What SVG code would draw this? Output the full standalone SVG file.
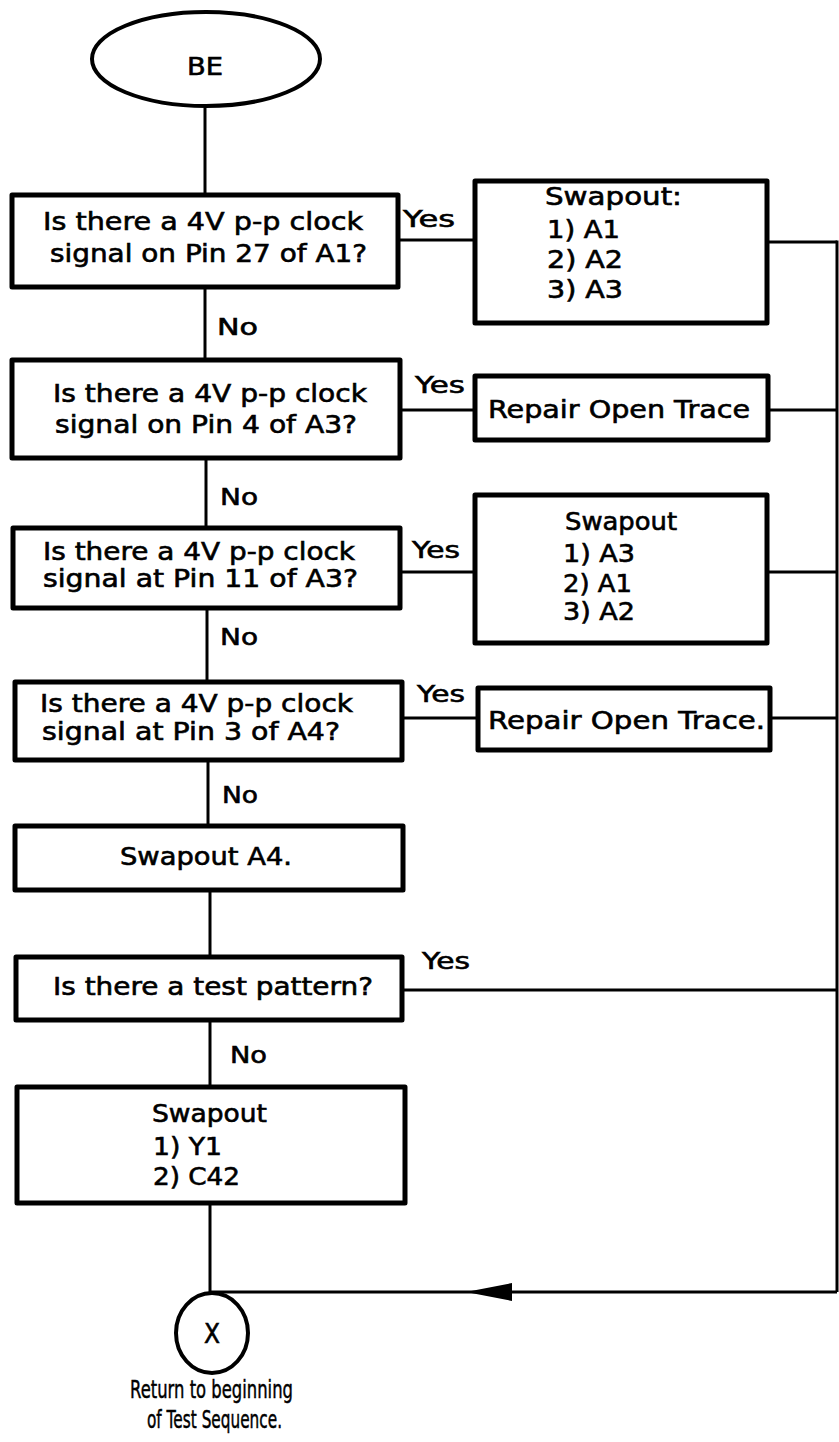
<svg xmlns="http://www.w3.org/2000/svg" width="839" height="1442" viewBox="0 0 839 1442">
<style>
.box{fill:#fff;stroke:#000;stroke-width:5;stroke-linejoin:round}
.term{fill:#fff;stroke:#000;stroke-width:4}
.ln{fill:none;stroke:#000;stroke-width:3}
text{font-family:"DejaVu Sans","Liberation Sans",sans-serif;font-size:24px;fill:#000;stroke:#000;stroke-width:0.6}
.lbl{font-size:23px}
.note{font-size:25px;stroke-width:0.5}
</style>
<defs>
<marker id="ah" viewBox="0 0 46 18" refX="0" refY="9" markerWidth="46" markerHeight="18" markerUnits="userSpaceOnUse" orient="auto">
<path d="M46,9 L0,0 L0,18 Z" fill="#000"/>
</marker>
</defs>
<g id="connectors">
<line class="ln" x1="205" y1="108" x2="205" y2="195"/>
<line class="ln" x1="205" y1="287" x2="205" y2="360"/>
<line class="ln" x1="206" y1="458" x2="206" y2="528"/>
<line class="ln" x1="207" y1="608" x2="207" y2="682"/>
<line class="ln" x1="208" y1="760" x2="208" y2="826"/>
<line class="ln" x1="210" y1="890" x2="210" y2="957"/>
<line class="ln" x1="210" y1="1020" x2="210" y2="1087"/>
<line class="ln" x1="210" y1="1203" x2="210" y2="1294"/>
<line class="ln" x1="398" y1="240" x2="475" y2="240"/>
<line class="ln" x1="400" y1="410" x2="475" y2="410"/>
<line class="ln" x1="400" y1="572" x2="475" y2="572"/>
<line class="ln" x1="402" y1="718" x2="478" y2="718"/>
<line class="ln" x1="767" y1="242" x2="837" y2="242"/>
<line class="ln" x1="768" y1="410" x2="837" y2="410"/>
<line class="ln" x1="767" y1="572" x2="837" y2="572"/>
<line class="ln" x1="770" y1="718" x2="837" y2="718"/>
<line class="ln" x1="402" y1="990" x2="837" y2="990"/>
<line class="ln" x1="837" y1="240.5" x2="837" y2="1292"/>
<line class="ln" x1="837" y1="1292" x2="512" y2="1292"/>
<line class="ln" x1="512" y1="1292" x2="210" y2="1292" marker-start="url(#ah)"/>
<text class="lbl" x="403" y="227" textLength="52" lengthAdjust="spacingAndGlyphs">Yes</text>
<text class="lbl" x="217" y="335" textLength="41" lengthAdjust="spacingAndGlyphs">No</text>
<text class="lbl" x="415" y="393" textLength="50" lengthAdjust="spacingAndGlyphs">Yes</text>
<text class="lbl" x="220" y="505" textLength="38" lengthAdjust="spacingAndGlyphs">No</text>
<text class="lbl" x="412" y="558" textLength="48" lengthAdjust="spacingAndGlyphs">Yes</text>
<text class="lbl" x="220" y="645" textLength="38" lengthAdjust="spacingAndGlyphs">No</text>
<text class="lbl" x="417" y="702" textLength="48" lengthAdjust="spacingAndGlyphs">Yes</text>
<text class="lbl" x="222" y="803" textLength="36" lengthAdjust="spacingAndGlyphs">No</text>
<text class="lbl" x="422" y="969" textLength="48" lengthAdjust="spacingAndGlyphs">Yes</text>
<text class="lbl" x="230" y="1063" textLength="37" lengthAdjust="spacingAndGlyphs">No</text>
</g>
<g id="start">
<ellipse class="term" cx="206" cy="59" rx="114" ry="47"/>
<text x="187" y="75" textLength="36" lengthAdjust="spacingAndGlyphs">BE</text>
</g>
<g id="q1">
<rect class="box" x="12" y="195" width="386" height="92"/>
<text x="43" y="230" textLength="320" lengthAdjust="spacingAndGlyphs">Is there a 4V p-p clock</text>
<text x="50" y="262" textLength="317" lengthAdjust="spacingAndGlyphs">signal on Pin 27 of A1?</text>
</g>
<g id="swap1">
<rect class="box" x="475" y="181" width="292" height="142"/>
<text x="545" y="205" textLength="137" lengthAdjust="spacingAndGlyphs">Swapout:</text>
<text x="547" y="238" textLength="73" lengthAdjust="spacingAndGlyphs">1) A1</text>
<text x="547" y="268" textLength="76" lengthAdjust="spacingAndGlyphs">2) A2</text>
<text x="547" y="298" textLength="76" lengthAdjust="spacingAndGlyphs">3) A3</text>
</g>
<g id="q2">
<rect class="box" x="12" y="360" width="388" height="98"/>
<text x="53" y="402" textLength="314" lengthAdjust="spacingAndGlyphs">Is there a 4V p-p clock</text>
<text x="55" y="433" textLength="302" lengthAdjust="spacingAndGlyphs">signal on Pin 4 of A3?</text>
</g>
<g id="repair1">
<rect class="box" x="475" y="376" width="293" height="64"/>
<text x="488" y="418" textLength="262" lengthAdjust="spacingAndGlyphs">Repair Open Trace</text>
</g>
<g id="q3">
<rect class="box" x="13" y="528" width="387" height="80"/>
<text x="43" y="560" textLength="312" lengthAdjust="spacingAndGlyphs">Is there a 4V p-p clock</text>
<text x="43" y="587" textLength="315" lengthAdjust="spacingAndGlyphs">signal at Pin 11 of A3?</text>
</g>
<g id="swap2">
<rect class="box" x="475" y="495" width="292" height="148"/>
<text x="565" y="530" textLength="112" lengthAdjust="spacingAndGlyphs">Swapout</text>
<text x="563" y="562" textLength="72" lengthAdjust="spacingAndGlyphs">1) A3</text>
<text x="563" y="592" textLength="69" lengthAdjust="spacingAndGlyphs">2) A1</text>
<text x="563" y="620" textLength="72" lengthAdjust="spacingAndGlyphs">3) A2</text>
</g>
<g id="q4">
<rect class="box" x="15" y="682" width="387" height="78"/>
<text x="40" y="712" textLength="313" lengthAdjust="spacingAndGlyphs">Is there a 4V p-p clock</text>
<text x="42" y="740" textLength="298" lengthAdjust="spacingAndGlyphs">signal at Pin 3 of A4?</text>
</g>
<g id="repair2">
<rect class="box" x="478" y="688" width="292" height="62"/>
<text x="488" y="729" textLength="277" lengthAdjust="spacingAndGlyphs">Repair Open Trace.</text>
</g>
<g id="swapA4">
<rect class="box" x="15" y="826" width="388" height="64"/>
<text x="120" y="865" textLength="172" lengthAdjust="spacingAndGlyphs">Swapout A4.</text>
</g>
<g id="q5">
<rect class="box" x="16" y="957" width="386" height="63"/>
<text x="53" y="995" textLength="320" lengthAdjust="spacingAndGlyphs">Is there a test pattern?</text>
</g>
<g id="swap3">
<rect class="box" x="17" y="1087" width="388" height="116"/>
<text x="152" y="1122" textLength="115" lengthAdjust="spacingAndGlyphs">Swapout</text>
<text x="153" y="1155" textLength="69" lengthAdjust="spacingAndGlyphs">1) Y1</text>
<text x="153" y="1185" textLength="87" lengthAdjust="spacingAndGlyphs">2) C42</text>
</g>
<g id="end">
<ellipse class="term" cx="212" cy="1333" rx="36" ry="40"/>
<text x="204" y="1343" textLength="16" lengthAdjust="spacingAndGlyphs" style="font-size:26px">X</text>
<text class="note" x="130" y="1398" textLength="163" lengthAdjust="spacingAndGlyphs">Return to beginning</text>
<text class="note" x="147" y="1428" textLength="135" lengthAdjust="spacingAndGlyphs">of Test Sequence.</text>
</g>
</svg>
